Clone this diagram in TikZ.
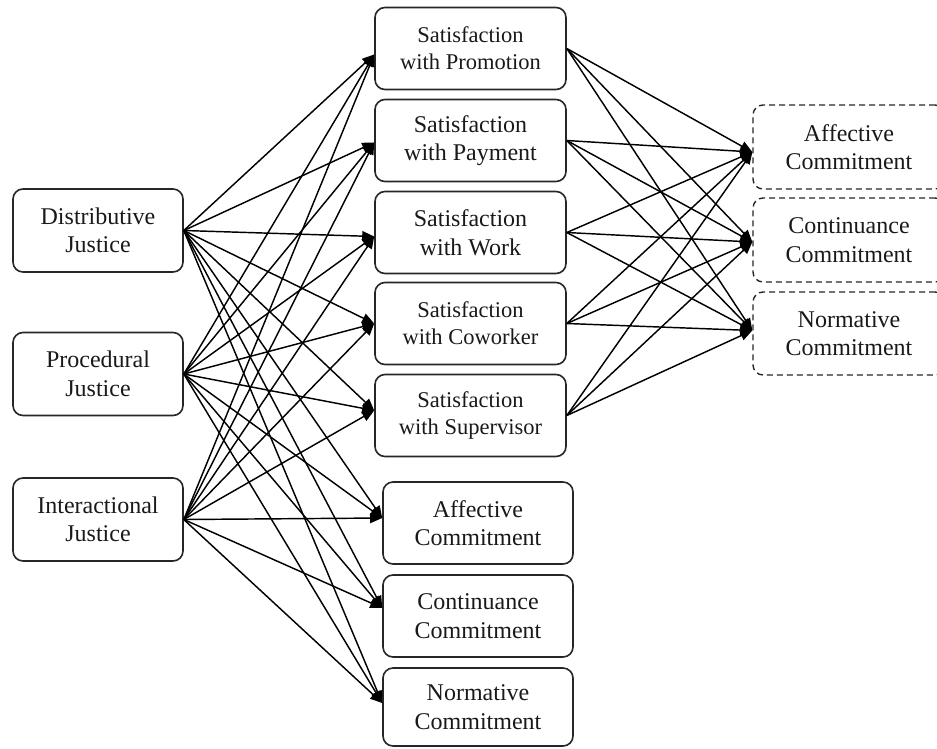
\documentclass[tikz,border=0pt]{standalone}
\usepackage{fontspec}
\setmainfont{Liberation Serif}
\usetikzlibrary{arrows.meta}
\begin{document}
\begin{tikzpicture}[x=1pt,y=-1pt,
  box/.style={draw=black!85, line width=1.6pt, rounded corners=10pt, align=center, inner sep=0pt,
    font=\fontsize{24}{28.5}\selectfont, text=black!90},
  boxsmall/.style={box, font=\fontsize{22.5}{27}\selectfont},
  dbox/.style={box, dashed, line width=1.4pt, dash pattern=on 6pt off 4pt},
  lj/.style={minimum width=170pt, minimum height=83pt},
  ms/.style={minimum width=191pt, minimum height=82pt},
  lc/.style={minimum width=190pt, minimum height=82pt},
  rc/.style={minimum width=192pt, minimum height=84pt},
  link/.style={line width=1.45pt, -{Triangle[length=12pt,width=10pt]}}
]
\useasboundingbox (0,0) rectangle (937,748);
\clip (0,0) rectangle (937,748);
% left
\node[box,lj] (dj) at (98,230.5) {Distributive\\Justice};
\node[box,lj] (pj) at (98,374) {Procedural\\Justice};
\node[box,lj] (ij) at (98,519.5) {Interactional\\Justice};
% satisfaction
\node[boxsmall,ms] (sp) at (470.5,48.5) {Satisfaction\\with Promotion};
\node[box,ms] (spay) at (470.5,140.5) {Satisfaction\\with Payment};
\node[box,ms] (sw) at (470.5,232.5) {Satisfaction\\with Work};
\node[boxsmall,ms] (sc) at (470.5,323.5) {Satisfaction\\with Coworker};
\node[boxsmall,ms] (ss) at (470.5,415.5) {Satisfaction\\with Supervisor};
% lower commitments
\node[box,lc] (ac) at (478,523) {Affective\\Commitment};
\node[box,lc] (cc) at (478,616) {Continuance\\Commitment};
\node[box,lc,minimum height=78pt] (nc) at (478,707) {Normative\\Commitment};
% right dashed commitments
\node[dbox,rc] (ad) at (849,147) {Affective\\Commitment};
\node[dbox,rc] (cd) at (849,240) {Continuance\\Commitment};
\node[dbox,rc,minimum height=83pt] (nd) at (849,333.5) {Normative\\Commitment};
% arrow entry points
\coordinate (sp-in) at ([yshift=-6pt]sp.west);
\coordinate (spay-in) at ([yshift=-2pt]spay.west);
\coordinate (sw-in) at ([yshift=-4pt]sw.west);
\coordinate (sc-in) at (sc.west);
\coordinate (ss-in) at ([yshift=5pt]ss.west);
\coordinate (ac-in) at ([yshift=5pt]ac.west);
\coordinate (cc-in) at ([yshift=8pt]cc.west);
\coordinate (nc-in) at ([yshift=4pt]nc.west);
\coordinate (ad-in) at ([yshift=-5pt]ad.west);
\coordinate (cd-in) at ([yshift=-2pt]cd.west);
\coordinate (nd-in) at ([yshift=3pt]nd.west);
% links left -> middle
\foreach \s in {dj,pj,ij}{
  \foreach \t in {sp,spay,sw,sc,ss,ac,cc,nc}{
    \draw[link] (\s.east) -- (\t-in);
  }
}
% links satisfaction -> right
\foreach \s in {sp,spay,sw,sc,ss}{
  \foreach \t in {ad,cd,nd}{
    \draw[link] (\s.east) -- (\t-in);
  }
}
\end{tikzpicture}
\end{document}
